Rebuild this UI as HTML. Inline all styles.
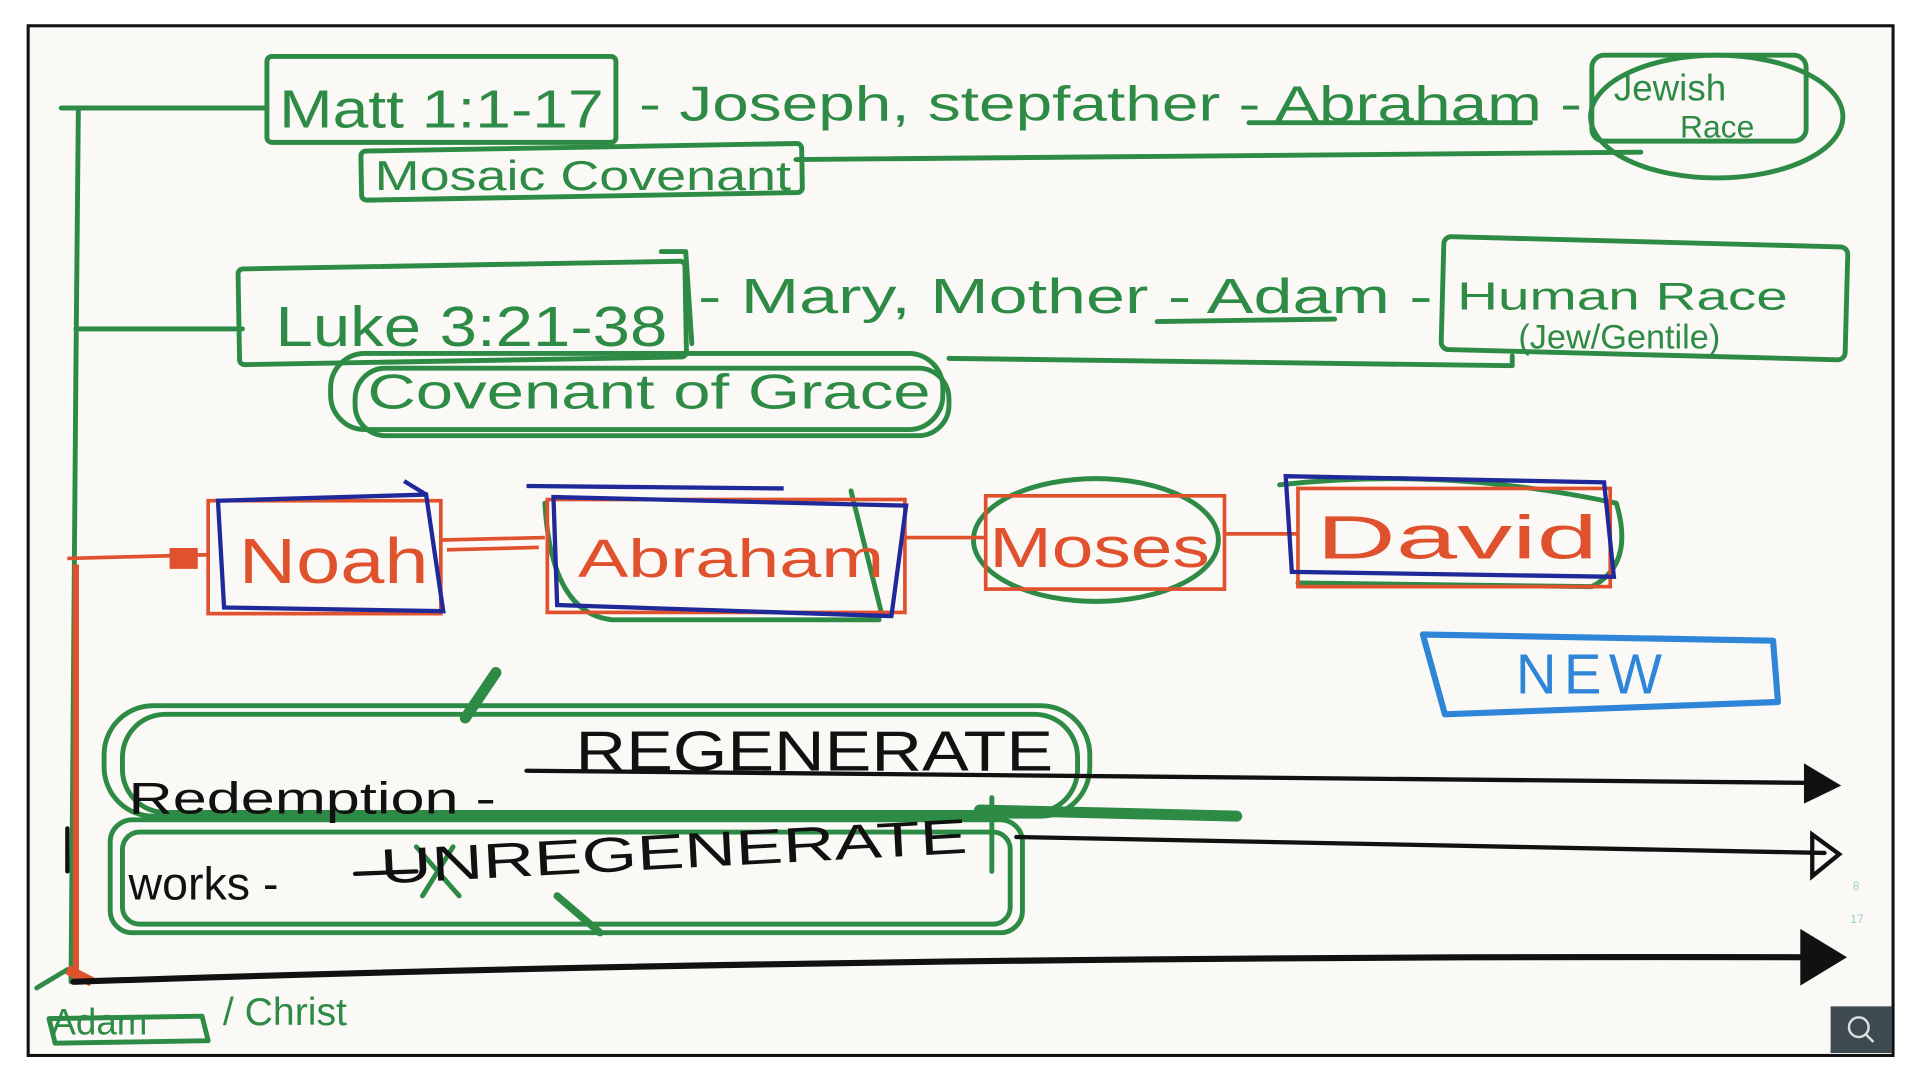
<!DOCTYPE html>
<html><head><meta charset="utf-8"><style>
html,body{margin:0;padding:0;background:#fff;width:1920px;height:1080px;overflow:hidden}
svg{display:block}
text{font-family:"Liberation Sans",sans-serif}
</style></head><body>
<svg width="1920" height="1080" viewBox="0 0 1568 880" preserveAspectRatio="none" xmlns="http://www.w3.org/2000/svg">
<rect x="0" y="0" width="1568" height="880" fill="#fff"/>
<rect x="23" y="21" width="1523" height="839" fill="#fbf9f6" stroke="#111" stroke-width="2.5"/>
<g fill="none" stroke="#2e8b46" stroke-width="4" stroke-linecap="round" stroke-linejoin="round">
<path d="M50 88 L64 88 L62 300 L58 800"/>
<path d="M52 88 L218 88"/>
<rect x="218" y="46" width="285" height="70" rx="4"/>
<rect x="295" y="120" width="360" height="40" rx="4" transform="rotate(-1 475 140)"/>
<path d="M650 130 L1340 124"/>
<ellipse cx="1402" cy="95" rx="103" ry="50"/>
<rect x="1300" y="45" width="175" height="70" rx="10"/>
<path d="M1020 100 L1250 100"/>
<path d="M62 268 L198 268"/>
<rect x="195" y="216" width="365" height="78" rx="4" transform="rotate(-1 377 255)"/>
<path d="M540 205 L560 205 L565 280"/>
<rect x="270" y="288" width="500" height="62" rx="28"/>
<rect x="290" y="300" width="485" height="55" rx="25"/>
<path d="M775 292 L1235 298 L1235 290"/>
<rect x="1178" y="197" width="330" height="92" rx="6" transform="rotate(1.5 1343 243)"/>
<path d="M945 262 L1090 260"/>
<ellipse cx="895" cy="440" rx="100" ry="50"/>
<path d="M1045 395 Q1180 380 1320 410 Q1335 460 1300 478 L1060 475"/>
<path d="M445 410 Q450 500 500 505 L718 505 M695 400 L720 500"/>
<rect x="85" y="575" width="805" height="90" rx="40"/>
<rect x="100" y="582" width="780" height="80" rx="35"/>
<rect x="90" y="668" width="745" height="92" rx="18"/>
<rect x="100" y="678" width="725" height="75" rx="14"/>
<path d="M380 585 L405 548" stroke-width="9"/>
<path d="M800 660 L1010 665" stroke-width="9"/>
<path d="M455 730 L490 760" stroke-width="6"/>
<path d="M340 690 L375 730 M370 690 L345 730" stroke-width="4"/>
<path d="M810 650 L810 710"/>
<path d="M40 830 L165 828 L170 848 L45 850 Z"/>
<path d="M30 805 L55 790"/>
</g>
<g fill="none" stroke="#e0522e" stroke-width="3">
<path d="M55 455 L170 452"/>
<path d="M140 448 L160 448 L160 462 L140 462 Z" fill="#e0522e"/>
<rect x="170" y="408" width="190" height="92"/>
<rect x="447" y="407" width="292" height="92"/>
<rect x="805" y="404" width="195" height="76"/>
<rect x="1060" y="398" width="255" height="80"/>
<path d="M360 440 L445 438 M365 448 L440 446"/>
<path d="M740 438 L805 438"/>
<path d="M1000 435 L1060 435"/>
<path d="M62 460 L62 800" stroke-width="5"/>
<path d="M55 790 L75 800" stroke-width="8"/>
</g>
<g fill="none" stroke="#20299a" stroke-width="3.5">
<path d="M178 408 L348 403 L362 498 L183 495 Z"/>
<path d="M330 392 L348 403"/>
<path d="M452 405 L740 412 L728 502 L455 493 Z"/>
<path d="M430 396 L640 398"/>
<path d="M1050 388 L1310 393 L1318 470 L1055 466 Z"/>
</g>
<path d="M1162 517 L1448 522 L1452 572 L1180 582 Z" fill="none" stroke="#2f86d8" stroke-width="5" stroke-linejoin="round"/>
<text x="1238" y="565" font-size="46" fill="#2f86d8" letter-spacing="6">NEW</text>
<g fill="none" stroke="#111" stroke-width="3.5" stroke-linecap="round">
<path d="M430 628 L1490 638"/>
<path d="M830 682 L1490 695"/>
<path d="M290 712 L340 710"/>
<path d="M60 800 Q700 778 1495 780" stroke-width="5"/>
<path d="M55 675 L55 710"/>
<path d="M1475 625 L1500 640 L1475 652 Z" fill="#111"/>
<path d="M1480 680 L1502 696 L1480 714 Z"/>
<path d="M1472 760 L1505 780 L1472 800 Z" fill="#111"/>
</g>
<g fill="#2e8b46" font-size="44">
<text x="228" y="104" textLength="265" lengthAdjust="spacingAndGlyphs">Matt 1:1-17</text>
<text x="522" y="98" font-size="40" textLength="770" lengthAdjust="spacingAndGlyphs">- Joseph, stepfather - Abraham -</text>
<text x="1318" y="82" font-size="30">Jewish</text>
<text x="1372" y="112" font-size="26">Race</text>
<text x="306" y="155" font-size="34" textLength="340" lengthAdjust="spacingAndGlyphs">Mosaic Covenant</text>
<text x="225" y="282" font-size="46" textLength="320" lengthAdjust="spacingAndGlyphs">Luke 3:21-38</text>
<text x="570" y="255" font-size="40" textLength="600" lengthAdjust="spacingAndGlyphs">- Mary, Mother - Adam -</text>
<text x="1190" y="252" font-size="32" textLength="270" lengthAdjust="spacingAndGlyphs">Human Race</text>
<text x="1240" y="284" font-size="28">(Jew/Gentile)</text>
<text x="300" y="333" font-size="40" textLength="460" lengthAdjust="spacingAndGlyphs">Covenant of Grace</text>
<text x="42" y="843" font-size="30">Adam</text>
</g>
<text x="182" y="835" font-size="32" fill="#2e8b46">/ Christ</text>
<g fill="#e0522e" font-size="52">
<text x="195" y="475" textLength="155" lengthAdjust="spacingAndGlyphs">Noah</text>
<text x="472" y="470" font-size="44" textLength="250" lengthAdjust="spacingAndGlyphs">Abraham</text>
<text x="808" y="462" font-size="46" textLength="180" lengthAdjust="spacingAndGlyphs">Moses</text>
<text x="1075" y="455" font-size="50" textLength="230" lengthAdjust="spacingAndGlyphs">David</text>
</g>
<g fill="#111">
<text x="470" y="628" font-size="46" textLength="390" lengthAdjust="spacingAndGlyphs">REGENERATE</text>
<text x="105" y="663" font-size="36" textLength="300" lengthAdjust="spacingAndGlyphs">Redemption -</text>
<text x="310" y="708" font-size="40" transform="rotate(-3 540 690)" textLength="480" lengthAdjust="spacingAndGlyphs">UNREGENERATE</text>
<text x="105" y="733" font-size="38">works -</text>
</g>
<rect x="1495" y="820" width="50" height="38" fill="#3e4a52"/>
<circle cx="1518" cy="837" r="8" fill="none" stroke="#ddd" stroke-width="2"/>
<path d="M1524 843 L1530 849" stroke="#ddd" stroke-width="2"/>
<text x="1513" y="725" font-size="10" fill="#9cc">8</text>
<text x="1511" y="752" font-size="10" fill="#9cc">17</text>
</svg>
</body></html>
